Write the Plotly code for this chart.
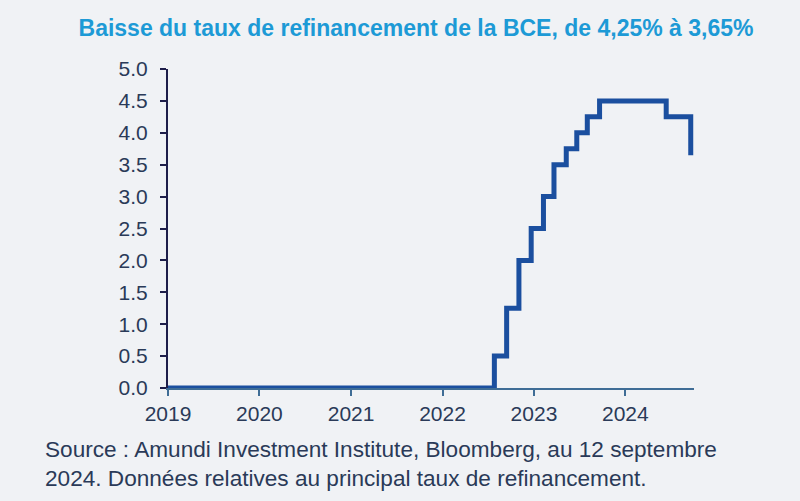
import plotly.graph_objects as go

# ECB main refinancing rate (%), change dates
dates = ["2019-01-01", "2022-07-27", "2022-09-14", "2022-11-02", "2022-12-21",
         "2023-02-08", "2023-03-22", "2023-05-10", "2023-06-21", "2023-08-02",
         "2023-09-20", "2024-06-12", "2024-09-18"]
rates = [0.0, 0.5, 1.25, 2.0, 2.5, 3.0, 3.5, 3.75, 4.0, 4.25, 4.5, 4.25, 3.65]

year_ticks = ["2019-01-01", "2020-01-01", "2021-01-01", "2022-01-01", "2023-01-01", "2024-01-01"]
year_labels = ["2019", "2020", "2021", "2022", "2023", "2024"]
y_ticks = [0, 0.5, 1, 1.5, 2, 2.5, 3, 3.5, 4, 4.5, 5]

title = "Baisse du taux de refinancement de la BCE, de 4,25% à 3,65%"
source = ("Source : Amundi Investment Institute, Bloomberg, au 12 septembre<br>"
          "2024. Données relatives au principal taux de refinancement.")

bg = "#f0f2f5"
text_col = "#2a3a58"
font_fam = "Liberation Sans, Arial, sans-serif"

fig = go.Figure()

fig.add_trace(go.Scatter(
    x=dates,
    y=rates,
    mode="lines",
    line=dict(shape="hv", width=5, color="#1b4f9f"),
    hoverinfo="skip",
    cliponaxis=False
))

fig.update_layout(
    width=800,
    height=501,
    paper_bgcolor=bg,
    plot_bgcolor=bg,
    showlegend=False,
    margin=dict(l=168, r=106, t=69, b=113),
    font=dict(family=font_fam, color=text_col, size=21),
    title=dict(
        text="<b>" + title + "</b>",
        x=0.52, xanchor="center", xref="container",
        y=0.944, yanchor="middle", yref="container",
        font=dict(size=23, color="#1d9ad6", family=font_fam)
    ),
    xaxis=dict(
        range=["2019-01-01", "2024-10-01"],
        tickvals=year_ticks,
        ticktext=year_labels,
        showgrid=False,
        zeroline=False,
        showline=True,
        linecolor="#3f6d96",
        linewidth=2,
        ticks="outside",
        ticklen=6,
        tickwidth=2,
        tickcolor="#3f6d96",
        tickfont=dict(size=21, color=text_col)
    ),
    yaxis=dict(
        range=[0, 5],
        tickvals=y_ticks,
        tickformat=".1f",
        showgrid=False,
        zeroline=False,
        showline=True,
        linecolor="#1e1e4a",
        linewidth=2,
        ticks="outside",
        ticklen=6,
        tickwidth=2,
        tickcolor="#1e1e4a",
        ticklabelstandoff=8,
        tickfont=dict(size=21, color=text_col)
    ),
    annotations=[dict(
        text=source,
        xref="paper", yref="paper",
        x=-0.238, y=-0.148,
        xanchor="left", yanchor="top",
        align="left",
        showarrow=False,
        font=dict(size=22.6, color=text_col)
    )]
)

# remove the default page margin so the figure sits at the window corner
fig.write_html("out.html", config={"displayModeBar": False},
               post_script="document.body.style.margin='0';")
